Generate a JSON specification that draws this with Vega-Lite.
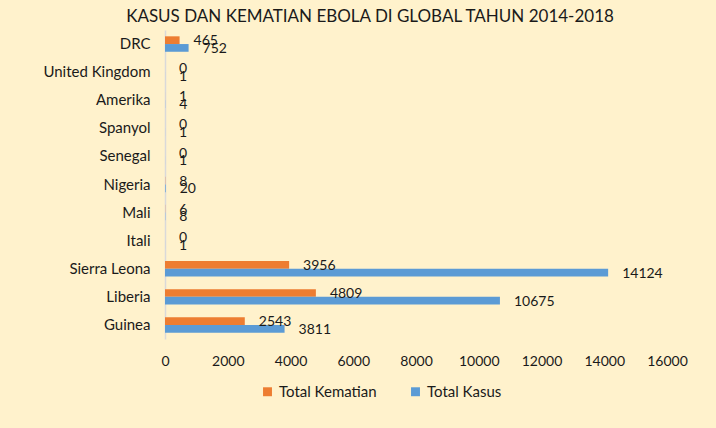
{
  "$schema": "https://vega.github.io/schema/vega-lite/v6.json",
  "width": 502,
  "height": 309,
  "autosize": {"type": "none"},
  "padding": {"left": 165, "top": 30, "right": 49, "bottom": 89},
  "background": "#FFF2CC",
  "view": {"stroke": null},
  "title": {
    "text": "KASUS DAN KEMATIAN EBOLA DI GLOBAL TAHUN 2014-2018",
    "font": "Lato",
    "fontSize": 17,
    "fontWeight": "normal",
    "color": "#1a1a1a",
    "anchor": "middle",
    "dx": -46,
    "offset": 4
  },
  "data": {
    "values": [
      {"negara": "DRC", "seri": "Total Kematian", "nilai": 465},
      {"negara": "DRC", "seri": "Total Kasus", "nilai": 752},
      {"negara": "United Kingdom", "seri": "Total Kematian", "nilai": 0},
      {"negara": "United Kingdom", "seri": "Total Kasus", "nilai": 1},
      {"negara": "Amerika", "seri": "Total Kematian", "nilai": 1},
      {"negara": "Amerika", "seri": "Total Kasus", "nilai": 4},
      {"negara": "Spanyol", "seri": "Total Kematian", "nilai": 0},
      {"negara": "Spanyol", "seri": "Total Kasus", "nilai": 1},
      {"negara": "Senegal", "seri": "Total Kematian", "nilai": 0},
      {"negara": "Senegal", "seri": "Total Kasus", "nilai": 1},
      {"negara": "Nigeria", "seri": "Total Kematian", "nilai": 8},
      {"negara": "Nigeria", "seri": "Total Kasus", "nilai": 20},
      {"negara": "Mali", "seri": "Total Kematian", "nilai": 6},
      {"negara": "Mali", "seri": "Total Kasus", "nilai": 8},
      {"negara": "Itali", "seri": "Total Kematian", "nilai": 0},
      {"negara": "Itali", "seri": "Total Kasus", "nilai": 1},
      {"negara": "Sierra Leona", "seri": "Total Kematian", "nilai": 3956},
      {"negara": "Sierra Leona", "seri": "Total Kasus", "nilai": 14124},
      {"negara": "Liberia", "seri": "Total Kematian", "nilai": 4809},
      {"negara": "Liberia", "seri": "Total Kasus", "nilai": 10675},
      {"negara": "Guinea", "seri": "Total Kematian", "nilai": 2543},
      {"negara": "Guinea", "seri": "Total Kasus", "nilai": 3811}
    ]
  },
  "encoding": {
    "y": {
      "field": "negara",
      "type": "nominal",
      "sort": ["DRC", "United Kingdom", "Amerika", "Spanyol", "Senegal", "Nigeria", "Mali", "Itali", "Sierra Leona", "Liberia", "Guinea"],
      "scale": {"paddingInner": 0.45, "paddingOuter": 0.225},
      "axis": {
        "title": null,
        "domain": true,
        "domainColor": "#D9D9D9",
        "domainWidth": 1.5,
        "ticks": false,
        "labelPadding": 15,
        "labelFont": "Lato",
        "labelFontSize": 15,
        "labelColor": "#1a1a1a"
      }
    },
    "yOffset": {
      "field": "seri",
      "type": "nominal",
      "sort": ["Total Kematian", "Total Kasus"],
      "scale": {"paddingInner": 0, "paddingOuter": 0}
    },
    "x": {
      "field": "nilai",
      "type": "quantitative",
      "scale": {"domain": [0, 16000], "nice": false},
      "axis": {
        "title": null,
        "values": [0, 2000, 4000, 6000, 8000, 10000, 12000, 14000, 16000],
        "format": "d",
        "grid": false,
        "domain": false,
        "ticks": false,
        "labelFlush": false,
        "labelPadding": 15,
        "labelFont": "Lato",
        "labelFontSize": 14,
        "labelColor": "#1a1a1a"
      }
    }
  },
  "layer": [
    {
      "mark": {"type": "bar"},
      "encoding": {
        "color": {
          "field": "seri",
          "type": "nominal",
          "sort": ["Total Kematian", "Total Kasus"],
          "scale": {"domain": ["Total Kematian", "Total Kasus"], "range": ["#ED7D31", "#5B9BD5"]},
          "legend": {
            "title": null,
            "orient": "none",
            "direction": "horizontal",
            "legendX": 95,
            "legendY": 354,
            "symbolType": "square",
            "symbolSize": 80,
            "symbolStrokeWidth": 0,
            "labelFont": "Lato",
            "labelFontSize": 15,
            "labelColor": "#1a1a1a",
            "labelOffset": 4,
            "columnPadding": 31
          }
        }
      }
    },
    {
      "mark": {"type": "text", "align": "left", "baseline": "middle", "dx": 14, "dy": 1, "font": "Lato", "fontSize": 14, "color": "#1a1a1a"},
      "encoding": {
        "text": {"field": "nilai", "type": "quantitative", "format": "d"}
      }
    }
  ]
}
